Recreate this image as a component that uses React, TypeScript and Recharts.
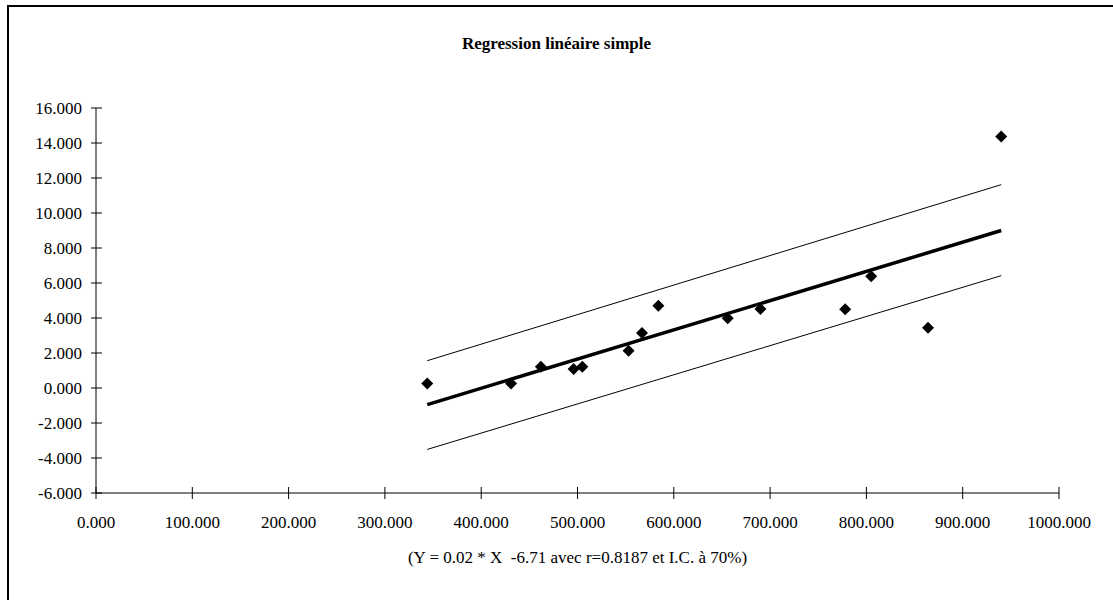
import React from "react";
import { ComposedChart, Scatter, Line, XAxis, YAxis } from "recharts";

// observed points
const xValues = [344, 431, 462, 496, 505, 553, 567, 584, 656, 690, 778, 805, 864, 940];
const yValues = [0.26, 0.26, 1.22, 1.08, 1.22, 2.13, 3.14, 4.7, 3.98, 4.52, 4.5, 6.38, 3.45, 14.37];

// fitted line and 70% band, read at both ends
const lineX = [344, 940];
const fitY = [-0.95, 9.0];
const upperY = [1.56, 11.62];
const lowerY = [-3.51, 6.42];

const xTicks = [0, 100, 200, 300, 400, 500, 600, 700, 800, 900, 1000];
const yTicks = [-6, -4, -2, 0, 2, 4, 6, 8, 10, 12, 14, 16];

const title = "Regression linéaire simple";
const subtitle = "(Y = 0.02 * X  -6.71 avec r=0.8187 et I.C. à 70%)";

const points = xValues.map((x, i) => ({ x, y: yValues[i] }));
const toLine = (ys: number[]) => lineX.map((x, i) => ({ x, y: ys[i] }));

const FONT = "Liberation Serif, Times New Roman, Times, serif";

const Diamond = (props: any) => {
  const { cx, cy } = props;
  const r = 6;
  return (
    <polygon
      points={`${cx},${cy - r} ${cx + r},${cy} ${cx},${cy + r} ${cx - r},${cy}`}
      fill="#000"
    />
  );
};

const YTick = (props: any) => {
  const { x, y, payload } = props;
  const axisX = x + 14;
  return (
    <g>
      <line x1={axisX - 5} x2={axisX + 6} y1={y} y2={y} stroke="#000" />
      <text x={x} y={y} dy="0.355em" textAnchor="end" fontSize={17} style={{ fontFamily: FONT }} fill="#000">
        {Number(payload.value).toFixed(3)}
      </text>
    </g>
  );
};

const XTick = (props: any) => {
  const { x, y, payload } = props;
  const axisY = y - 23;
  return (
    <g>
      <line x1={x} x2={x} y1={axisY - 6} y2={axisY + 6} stroke="#000" />
      <text x={x} y={y} dy="0.71em" textAnchor="middle" fontSize={17} style={{ fontFamily: FONT }} fill="#000">
        {Number(payload.value).toFixed(3)}
      </text>
    </g>
  );
};

export default function App() {
  return (
    <div style={{ position: "absolute", left: 0, top: 0, width: 1113, height: 600, overflow: "hidden", background: "#fff", fontFamily: FONT }}>
      <div style={{ position: "absolute", left: 7, top: 5, width: 2000, height: 2000, border: "2px solid #000", boxSizing: "border-box" }} />
      <div style={{ position: "absolute", left: 0, top: 35, width: 1113, textAlign: "center", fontWeight: "bold", fontSize: 17, lineHeight: "17px" }}>
        {title}
      </div>
      <div style={{ position: "absolute", left: 96, top: 549, width: 963, textAlign: "center", fontSize: 17, lineHeight: "17px", whiteSpace: "pre" }}>
        {subtitle}
      </div>
      <div style={{ position: "absolute", left: 0, top: 0 }}>
        <ComposedChart width={1113} height={600} margin={{ top: 108, right: 54, bottom: 47, left: 6 }}>
          <XAxis
            type="number"
            dataKey="x"
            domain={[0, 1000]}
            ticks={xTicks}
            interval={0}
            tickSize={0}
            tickMargin={23}
            tick={<XTick />}
            axisLine={{ stroke: "#000" }}
            tickLine={false}
            height={60}
            allowDataOverflow
          />
          <YAxis
            type="number"
            dataKey="y"
            domain={[-6, 16]}
            ticks={yTicks}
            interval={0}
            tickSize={0}
            tickMargin={14}
            tick={<YTick />}
            axisLine={{ stroke: "#000" }}
            tickLine={false}
            width={90}
            allowDataOverflow
          />
          <Line data={toLine(upperY)} dataKey="y" stroke="#000" strokeWidth={1} dot={false} isAnimationActive={false} />
          <Line data={toLine(lowerY)} dataKey="y" stroke="#000" strokeWidth={1} dot={false} isAnimationActive={false} />
          <Line data={toLine(fitY)} dataKey="y" stroke="#000" strokeWidth={3.5} dot={false} isAnimationActive={false} />
          <Scatter data={points} dataKey="y" shape={<Diamond />} isAnimationActive={false} />
        </ComposedChart>
      </div>
    </div>
  );
}
